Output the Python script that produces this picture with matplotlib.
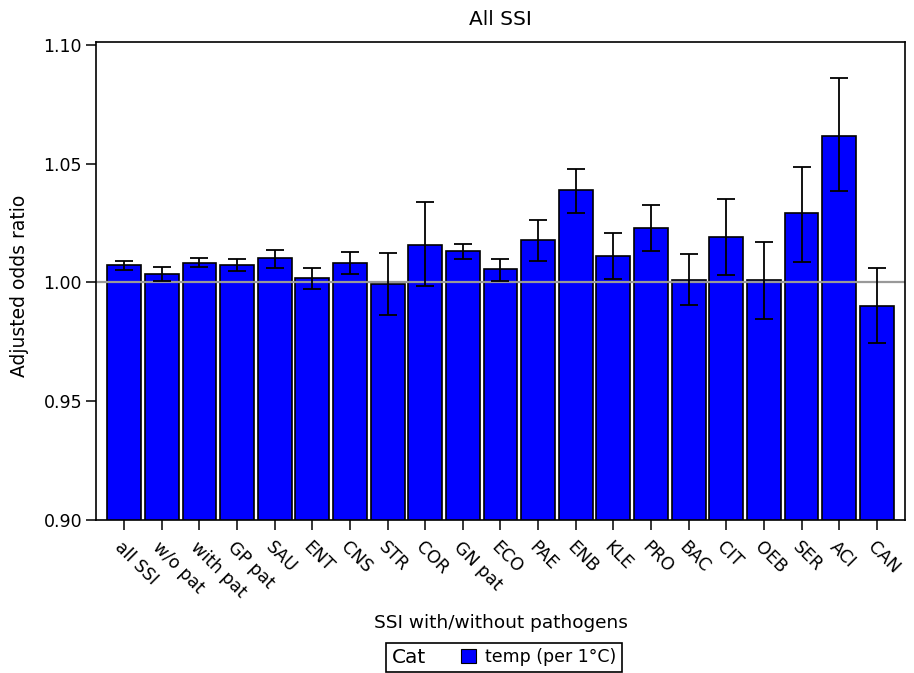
import numpy as np
import matplotlib
matplotlib.use("Agg")
import matplotlib.pyplot as plt
from matplotlib.patches import Patch
from matplotlib.offsetbox import HPacker
from matplotlib.transforms import ScaledTranslation

categories = ["all SSI", "w/o pat", "with pat", "GP pat", "SAU", "ENT", "CNS", "STR",
              "COR", "GN pat", "ECO", "PAE", "ENB", "KLE", "PRO", "BAC", "CIT", "OEB",
              "SER", "ACI", "CAN"]
odds = [1.0073, 1.0033, 1.0080, 1.0073, 1.0101, 1.0020, 1.0080, 0.9993, 1.0159, 1.0134,
        1.0054, 1.0178, 1.0391, 1.0110, 1.0230, 1.0011, 1.0191, 1.0011, 1.0291, 1.0616,
        0.9900]
upper = [1.0090, 1.0065, 1.0104, 1.0097, 1.0138, 1.0062, 1.0128, 1.0124, 1.0340, 1.0163,
         1.0097, 1.0263, 1.0478, 1.0207, 1.0326, 1.0118, 1.0350, 1.0170, 1.0485, 1.0861,
         1.0062]
lower = [1.0052, 1.0004, 1.0065, 1.0049, 1.0060, 0.9973, 1.0033, 0.9864, 0.9984, 1.0100,
         1.0007, 1.0090, 1.0294, 1.0014, 1.0131, 0.9903, 1.0031, 0.9846, 1.0086, 1.0385,
         0.9742]
yticks = [0.90, 0.95, 1.00, 1.05, 1.10]
series_label = "temp (per 1°C)"
legend_title = "Cat"
title = "All SSI"
xlabel = "SSI with/without pathogens"
ylabel = "Adjusted odds ratio"

plt.rcParams['font.family'] = ['DejaVu Sans']

fig = plt.figure(figsize=(9.14, 6.73), dpi=100)
ax = fig.add_axes([96 / 914, 1 - 520 / 673, (905 - 96) / 914, (520 - 41.5) / 673])

x = np.arange(len(categories))
vals = np.array(odds)
up = np.array(upper)
lo = np.array(lower)

ax.bar(x, vals, width=0.9, color='#0000ff', edgecolor='black', linewidth=1.2, zorder=2)
ax.axhline(1.0, color='#999999', linewidth=1.6, zorder=2.5)
ax.errorbar(x, vals, yerr=[vals - lo, up - vals], fmt='none', ecolor='black',
            elinewidth=1.3, capsize=6.5, capthick=1.3, zorder=3)

ax.set_xlim(-0.75, len(categories) - 0.25)
ax.set_ylim(0.8998, 1.1015)
ax.set_yticks(yticks)
ax.set_yticklabels([f"{t:.2f}" for t in yticks], fontsize=12.5)
ax.set_xticks(x)
ax.set_xticklabels(categories, rotation=-45, ha='left', va='top',
                   rotation_mode='anchor', fontsize=12.5)
offset = ScaledTranslation(-8 / 100, -3 / 100, fig.dpi_scale_trans)
for lab in ax.get_xticklabels():
    lab.set_transform(lab.get_transform() + offset)

ax.tick_params(axis='both', direction='out', length=7, width=1.1, color='black')
ax.tick_params(axis='x', pad=6)
ax.tick_params(axis='y', pad=3)
for sp in ax.spines.values():
    sp.set_linewidth(1.2)
    sp.set_color('black')

ax.set_title(title, fontsize=14.5, pad=12)
ax.set_ylabel(ylabel, fontsize=13.5)
ax.yaxis.set_label_coords(-0.0825, 0.49)
ax.set_xlabel(xlabel, fontsize=13.3)
ax.xaxis.set_label_coords(0.5, -0.196)

handle = Patch(facecolor='#0000ff', edgecolor='black', linewidth=0.8)
leg = fig.legend(handles=[handle], labels=[series_label], title=legend_title,
                 loc='upper center', bbox_to_anchor=(504 / 914, 1 - 642.5 / 673),
                 fontsize=12.5, title_fontsize=14.5, frameon=True, fancybox=False,
                 edgecolor='black', framealpha=1, handlelength=0.86, handleheight=0.86,
                 handletextpad=0.55, borderpad=0.3, borderaxespad=0)
leg.get_frame().set_linewidth(1.2)
fs = leg._fontsize
new_box = HPacker(pad=0.3 * fs, sep=2.0 * fs, align='center',
                  children=[leg._legend_title_box, leg._legend_handle_box])
new_box.set_figure(fig)
new_box.axes = leg.axes
new_box.set_offset(leg._findoffset)
leg._legend_box = new_box

fig.savefig("out.png", dpi=100)
